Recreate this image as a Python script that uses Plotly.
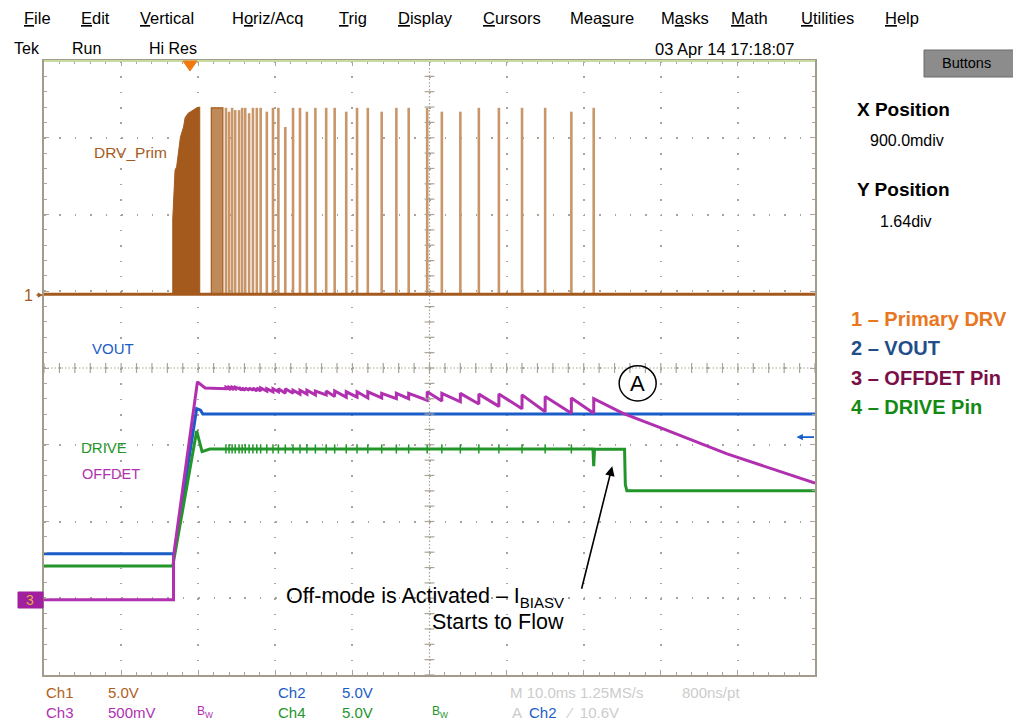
import plotly.graph_objects as go
import numpy as np

# ---------------- data (time in ms, 10 ms/div; vertical in screen divisions, 0 = centre) ----------------
ch1_baseline = 0.96
burst_t = [16.7, 17.0, 17.2, 17.7, 18.1, 18.3, 18.7, 19.2, 19.8, 20.2]
burst_top = [1.94, 2.58, 2.62, 3.01, 3.14, 3.26, 3.32, 3.35, 3.39, 3.40]
block_t = [21.7, 23.2]
block_top = 3.39
pulse_t = [23.6, 24.0, 24.4, 24.8, 25.3, 25.7, 26.1, 26.6, 27.1, 27.6, 28.1, 28.9, 29.7,
           30.4, 31.3, 32.3, 33.2, 34.1, 35.2, 36.6, 37.7, 39.2, 40.6, 42.0, 43.8, 45.7,
           47.3, 49.7, 51.6, 54.0, 56.4, 59.0, 62.0, 65.0, 68.4, 71.3]
pulse_top = [3.39, 3.34, 3.39, 3.36, 3.36, 3.39, 3.39, 3.32, 3.39, 3.39, 3.39, 3.34, 3.39,
             3.39, 3.14, 3.39, 3.39, 3.34, 3.39, 3.39, 3.39, 3.34, 3.39, 3.39, 3.34, 3.39,
             3.39, 3.39, 3.34, 3.34, 3.39, 3.39, 3.39, 3.39, 3.34, 3.39]

vout_t = [0, 16.9, 19.8, 20.3, 20.6, 100]
vout_v = [-2.42, -2.42, -0.53, -0.55, -0.60, -0.60]

offdet_start_t = [0, 16.8, 16.8, 19.9, 20.9]
offdet_start_v = [-3.02, -3.02, -2.45, -0.18, -0.26]
offdet_bottom = [-0.27, -0.27, -0.27, -0.27, -0.27, -0.29, -0.29, -0.29, -0.29, -0.30, -0.30, -0.30, -0.31,
                 -0.31, -0.33, -0.33, -0.34, -0.34, -0.35, -0.35, -0.37, -0.38, -0.38, -0.39, -0.39, -0.40,
                 -0.40, -0.42, -0.43, -0.44, -0.47, -0.50, -0.53, -0.57, -0.59, -0.59]
offdet_top = [-0.25, -0.25, -0.25, -0.25, -0.25, -0.26, -0.26, -0.26, -0.26, -0.26, -0.26, -0.27, -0.27,
              -0.27, -0.27, -0.29, -0.29, -0.29, -0.30, -0.30, -0.30, -0.31, -0.31, -0.31, -0.33, -0.33,
              -0.33, -0.31, -0.33, -0.33, -0.34, -0.34, -0.35, -0.37, -0.39, -0.40]
offdet_decay_t = [75.1, 80.0, 88.6, 100]
offdet_decay_v = [-0.59, -0.78, -1.12, -1.50]

drive_t = [0, 16.7, 19.8, 20.5, 21.5, 71.2, 71.3, 71.4, 75.3, 75.4, 75.6, 100]
drive_v = [-2.58, -2.58, -0.82, -1.09, -1.055, -1.055, -1.28, -1.06, -1.06, -1.52, -1.60, -1.60]

# ---------------- styling ----------------
BROWN = "#a45a1c"
TAN = "#c9966a"
BLUE = "#1a5cc8"
PURPLE = "#b030b0"
GREEN = "#22962a"
GRID = "#aaa398"
TEK = "Liberation Sans, Arial, sans-serif"
HELV = "Liberation Sans, Arial, Helvetica, sans-serif"

OFF = 8                       # page body margin
W, H = 1021 - OFF, 724 - OFF
L, R, T, B = 44, 815, 61, 675  # plot area in screenshot pixels
def px2x(px):
    return (px - L) / (R - L)
def py2y(py):
    return (B - py) / (B - T)

fig = go.Figure()

# ---- Ch1 ----
fig.add_trace(go.Scatter(x=[burst_t[0]] + burst_t + [burst_t[-1]],
                         y=[ch1_baseline] + burst_top + [ch1_baseline],
                         fill="toself", fillcolor=BROWN, mode="lines",
                         line=dict(color=BROWN, width=1), hoverinfo="skip"))
fig.add_trace(go.Scatter(x=[block_t[0], block_t[0], block_t[1], block_t[1]],
                         y=[ch1_baseline, block_top, block_top, ch1_baseline],
                         fill="toself", fillcolor="#c08a58", mode="lines",
                         line=dict(color=BROWN, width=1.2), hoverinfo="skip"))
px_, py_ = [], []
for t, h in zip(pulse_t, pulse_top):
    px_ += [t, t, None]
    py_ += [ch1_baseline, h, None]
fig.add_trace(go.Scatter(x=px_, y=py_, mode="lines", line=dict(color=TAN, width=2.6), hoverinfo="skip"))
fig.add_trace(go.Scatter(x=[0, 100], y=[ch1_baseline, ch1_baseline], mode="lines",
                         line=dict(color=BROWN, width=3), hoverinfo="skip"))

# ---- Ch2 VOUT ----
fig.add_trace(go.Scatter(x=vout_t, y=vout_v, mode="lines", line=dict(color=BLUE, width=3)))

# ---- Ch4 DRIVE ----
fig.add_trace(go.Scatter(x=drive_t, y=drive_v, mode="lines", line=dict(color=GREEN, width=3)))
gx, gy = [], []
for t in pulse_t[:-1]:
    gx += [t, t, None]
    gy += [drive_v[4] + 0.06, drive_v[4] - 0.06, None]
fig.add_trace(go.Scatter(x=gx, y=gy, mode="lines", line=dict(color=GREEN, width=1.5)))

# ---- Ch3 OFFDET ----
ox = list(offdet_start_t)
oy = list(offdet_start_v)
for t, b, tp in zip(pulse_t, offdet_bottom, offdet_top):
    ox += [t, t]
    oy += [b, tp]
ox += offdet_decay_t
oy += offdet_decay_v
fig.add_trace(go.Scatter(x=ox, y=oy, mode="lines", line=dict(color=PURPLE, width=3)))

# ---- centre-line tick marks ----
fig.add_trace(go.Scatter(x=np.arange(0, 100.01, 2), y=np.zeros(51), mode="markers",
                         marker=dict(symbol="line-ns", size=7, line=dict(color=GRID, width=1.2)),
                         hoverinfo="skip"))
fig.add_trace(go.Scatter(x=np.full(41, 50.0), y=np.arange(-4, 4.001, 0.2), mode="markers",
                         marker=dict(symbol="line-ew", size=7, line=dict(color=GRID, width=1.2)),
                         hoverinfo="skip"))

shapes = [
    dict(type="line", xref="x", yref="y", x0=0, x1=100, y0=0, y1=0, layer="below",
         line=dict(color=GRID, width=1.2, dash="1.5px,2px")),
    dict(type="line", xref="x", yref="y", x0=50, x1=50, y0=-4, y1=4, layer="below",
         line=dict(color=GRID, width=1.2, dash="1.5px,2px")),
    dict(type="line", xref="paper", yref="paper", x0=0, x1=1, y0=1, y1=1,
         line=dict(color="#c8dca0", width=2)),
    # circle A
    dict(type="circle", xref="x", yref="y", x0=74.6, x1=79.4, y0=-0.43, y1=0.03,
         line=dict(color="black", width=1.5)),
    # trigger marker
    dict(type="path", xref="paper", yref="paper",
         path=f"M{px2x(183)},{py2y(61)} L{px2x(197)},{py2y(61)} L{px2x(190)},{py2y(71)} Z",
         fillcolor="#f07a10", line=dict(color="#f07a10", width=1)),
    # Buttons box
    dict(type="rect", xref="paper", yref="paper", x0=px2x(924), x1=px2x(1014), y0=py2y(77), y1=py2y(50),
         fillcolor="#8c8c8c", line=dict(color="#6a6a6a", width=1)),
    # ch3 ground marker box
    dict(type="rect", xref="paper", yref="paper", x0=px2x(18), x1=px2x(43), y0=py2y(608), y1=py2y(592),
         fillcolor="#a020a0", line=dict(color="#a020a0", width=1)),
]

ann = []
def txt(text, x, y, color="black", size=15, family=TEK, xanchor="left", xref="paper", yref="paper"):
    ann.append(dict(text=text, x=x, y=y, xref=xref, yref=yref, showarrow=False,
                    font=dict(color=color, size=size, family=family),
                    xanchor=xanchor, yanchor="middle"))

# menu bar
menu = [("<u>F</u>ile", 22), ("<u>E</u>dit", 79), ("<u>V</u>ertical", 138), ("H<u>o</u>riz/Acq", 230),
        ("<u>T</u>rig", 337), ("<u>D</u>isplay", 396), ("<u>C</u>ursors", 481), ("Mea<u>s</u>ure", 568),
        ("M<u>a</u>sks", 659), ("<u>M</u>ath", 729), ("<u>U</u>tilities", 799), ("<u>H</u>elp", 883)]
for m, x in menu:
    txt(m, px2x(x), py2y(18), size=16.5)
txt("Tek", px2x(12), py2y(49), size=16)
txt("Run", px2x(70), py2y(49), size=16)
txt("Hi Res", px2x(147), py2y(49), size=16)
txt("03 Apr 14 17:18:07", px2x(796), py2y(49), size=16.5, xanchor="right")

# right panel
txt("Buttons", px2x(966), py2y(63), size=14.5, xanchor="center", family=HELV)
txt("|", px2x(1016), py2y(63), size=15, xanchor="center", family=HELV)
txt("<b>X Position</b>", px2x(855), py2y(109), size=19, family=HELV)
txt("900.0mdiv", px2x(907), py2y(141), size=16, xanchor="center")
txt("<b>Y Position</b>", px2x(855), py2y(189), size=19, family=HELV)
txt("1.64div", px2x(906), py2y(221), size=16, xanchor="center")

legend = [("1 – Primary DRV", "#e87722", 319), ("2 – VOUT", "#1f4e89", 348),
          ("3 – OFFDET Pin", "#7a0e46", 378), ("4 – DRIVE Pin", "#138a13", 407)]
for s, c, y in legend:
    txt(f"<b>{s}</b>", px2x(849), py2y(y), color=c, size=20, family=HELV)

# in-plot channel labels
txt("DRV_Prim", 11.2, 2.81, color=BROWN, size=15.5, xanchor="center", xref="x", yref="y")
txt("VOUT", 8.9, 0.25, color=BLUE, size=15, xanchor="center", xref="x", yref="y")
txt("DRIVE", 7.8, -1.04, color=GREEN, size=15, xanchor="center", xref="x", yref="y")
txt("OFFDET", 8.7, -1.38, color=PURPLE, size=14.5, xanchor="center", xref="x", yref="y")

# left markers
txt("1", px2x(28), py2y(295), color=BROWN, size=16, xanchor="center")
ann.append(dict(x=px2x(43), y=py2y(295), xref="paper", yref="paper", ax=-8, ay=0, text="",
                showarrow=True, arrowhead=2, arrowsize=0.7, arrowwidth=1.5, arrowcolor=BROWN))
txt("3", px2x(30), py2y(600), color="#e0b040", size=14, xanchor="center")

# right-edge VOUT offset arrow
ann.append(dict(x=97.6, y=-0.90, xref="x", yref="y", ax=19, ay=0, text="",
                showarrow=True, arrowhead=2, arrowsize=0.8, arrowwidth=1.6, arrowcolor=BLUE))

# annotation A and arrow
txt("A", 77.0, -0.20, size=22, family=HELV, xanchor="center", xref="x", yref="y")
ann.append(dict(x=73.7, y=-1.28, xref="x", yref="y", ax=-31, ay=124, text="",
                showarrow=True, arrowhead=2, arrowsize=1.2, arrowwidth=1.6, arrowcolor="black"))
txt("Off-mode is Activated – I<sub>BIASV</sub>", px2x(566), py2y(597), size=21.5, family=HELV, xanchor="right")
txt("Starts to Flow", px2x(566), py2y(622), size=21.5, family=HELV, xanchor="right")

# bottom readouts
row1, row2 = py2y(692), py2y(712)
txt("Ch1", px2x(44), row1, color="#b0601c", size=15)
txt("5.0V", px2x(106), row1, color="#b0601c", size=15)
txt("Ch2", px2x(276), row1, color=BLUE, size=15)
txt("5.0V", px2x(340), row1, color=BLUE, size=15)
txt("M 10.0ms 1.25MS/s", px2x(508), row1, color="#cccccc", size=15)
txt("800ns/pt", px2x(680), row1, color="#cccccc", size=15)
txt("Ch3", px2x(44), row2, color=PURPLE, size=15)
txt("500mV", px2x(106), row2, color=PURPLE, size=15)
txt("B<sub>W</sub>", px2x(195), row2, color=PURPLE, size=12)
txt("Ch4", px2x(276), row2, color=GREEN, size=15)
txt("5.0V", px2x(340), row2, color=GREEN, size=15)
txt("B<sub>W</sub>", px2x(430), row2, color=GREEN, size=12)
txt("A", px2x(510), row2, color="#cccccc", size=15)
txt("Ch2", px2x(527), row2, color=BLUE, size=15)
txt("⁄  10.6V", px2x(563), row2, color="#cccccc", size=15)

axis_common = dict(showticklabels=False, zeroline=False, showline=True, linecolor="#a39c8c",
                   linewidth=1.5, mirror="ticks", ticks="inside", ticklen=5, tickcolor=GRID,
                   showgrid=True, gridcolor=GRID, gridwidth=1.5, fixedrange=True)
fig.update_layout(
    width=W, height=H, autosize=False,
    margin=dict(l=L - OFF, r=W - (R - OFF), t=T - OFF, b=H - (B - OFF)),
    paper_bgcolor="white", plot_bgcolor="white",
    showlegend=False,
    xaxis=dict(range=[0, 100], dtick=10, tick0=0, griddash="1.5px,13.85px",
               minor=dict(dtick=2, ticks="inside", ticklen=3, tickcolor=GRID, showgrid=False),
               **axis_common),
    yaxis=dict(range=[-4, 4], dtick=1, tick0=0, griddash="1.5px,13.92px",
               minor=dict(dtick=0.2, ticks="inside", ticklen=3, tickcolor=GRID, showgrid=False),
               **axis_common),
    shapes=shapes,
    annotations=ann,
)

fig.write_html("out.html")
